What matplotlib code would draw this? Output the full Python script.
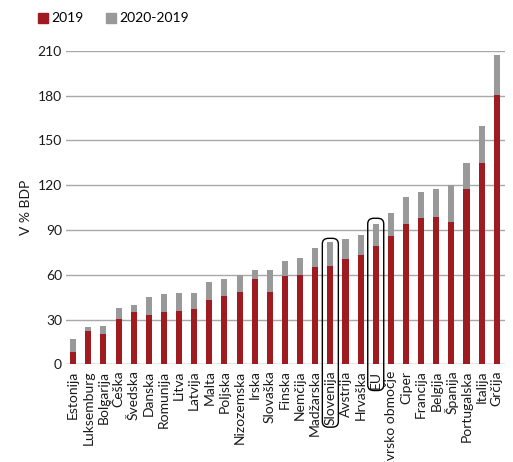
import matplotlib
matplotlib.use("Agg")
import matplotlib.pyplot as plt
from matplotlib.patches import FancyBboxPatch, Patch
import numpy as np

plt.rcParams['font.family'] = ['Lato', 'DejaVu Sans']

drzave = ['Estonija', 'Luksemburg', 'Bolgarija', 'Češka', 'Švedska', 'Danska',
          'Romunija', 'Litva', 'Latvija', 'Malta', 'Poljska', 'Nizozemska',
          'Irska', 'Slovaška', 'Finska', 'Nemčija', 'Madžarska', 'Slovenija',
          'Avstrija', 'Hrvaška', 'EU', 'Evrsko območje', 'Ciper', 'Francija',
          'Belgija', 'Španija', 'Portugalska', 'Italija', 'Grčija']
dolg_2019 = np.array([8.4, 22.0, 20.2, 30.2, 35.1, 33.3, 35.3, 35.9, 36.9, 43.1,
                      46.0, 48.7, 57.4, 48.5, 59.4, 59.8, 65.4, 65.6, 70.4, 73.2,
                      79.3, 86.0, 94.0, 98.1, 98.6, 95.5, 117.7, 134.8, 180.5])
dolg_2020 = np.array([17.0, 25.0, 25.7, 37.7, 39.5, 45.0, 47.0, 47.5, 47.5, 55.0,
                      57.0, 60.0, 63.0, 63.5, 69.4, 71.0, 77.7, 81.7, 83.9, 86.6,
                      93.8, 101.3, 112.3, 115.4, 117.4, 119.9, 134.8, 159.4, 207.0])
razlika = dolg_2020 - dolg_2019
yticks = [0, 30, 60, 90, 120, 150, 180, 210]

rdeca = '#9e1b22'
siva = '#999999'

fig = plt.figure(figsize=(5.13, 4.62), dpi=100)
ax = fig.add_axes([0.129, 0.2115, 0.855, 0.6785])

x = np.arange(len(drzave))
ax.bar(x, dolg_2019, width=0.4, color=rdeca, zorder=3)
ax.bar(x, razlika, width=0.4, bottom=dolg_2019, color=siva, zorder=3)

ax.set_xlim(-0.46, len(drzave) - 0.47)
ax.set_ylim(0, 210)
ax.set_yticks(yticks)
for t in yticks:
    ax.axhline(t, color='#a8a8a8' if t else '#888888', lw=1, zorder=1)
for s in ax.spines.values():
    s.set_visible(False)
ax.tick_params(axis='both', length=0, colors='#1a1a1a')
ax.tick_params(axis='y', pad=3, labelsize=10)
ax.tick_params(axis='x', pad=4.5, labelsize=10)
ax.set_xticks(x)
ax.set_xticklabels(drzave, rotation=90)
ax.set_ylabel('V % BDP', fontsize=10, labelpad=4, color='#1a1a1a')

fig.legend(handles=[Patch(color=rdeca, label='2019'), Patch(color=siva, label='2020-2019')],
           loc='upper left', bbox_to_anchor=(0.05, 1.0), ncol=2, frameon=False,
           handlelength=0.7, handleheight=0.7, handletextpad=0.25, columnspacing=1.6,
           fontsize=10)

# zaobljena okvirja okoli Slovenije in EU
fig.canvas.draw()
inv = fig.transFigure.inverted()
for ime, pad_top in [('Slovenija', 4), ('EU', 6)]:
    i = drzave.index(ime)
    lab = ax.get_xticklabels()[i]
    bb = lab.get_window_extent()
    top_px = ax.transData.transform((i, dolg_2020[i]))[1] + pad_top
    cx = ax.transData.transform((i, 0))[0]
    w, b = 16, bb.y0 - 2
    (x0, y0) = inv.transform((cx - w / 2, b))
    (x1, y1) = inv.transform((cx + w / 2, top_px))
    fig.patches.append(FancyBboxPatch((x0, y0), x1 - x0, y1 - y0,
                                      boxstyle='round,pad=0,rounding_size=0.012',
                                      transform=fig.transFigure, fill=False,
                                      ec='black', lw=1, zorder=5))

fig.savefig('out.png', dpi=100)
